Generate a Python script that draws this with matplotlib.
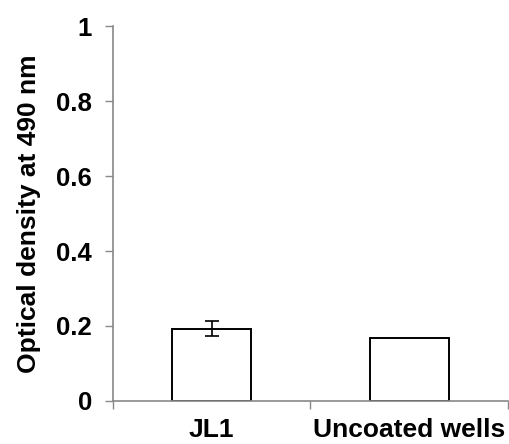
#!/usr/bin/env python3
''' Optical density bar chart
'''

import numpy as np
import matplotlib
matplotlib.use('Agg')
from matplotlib import pyplot

# data
categories = ['JL1', 'Uncoated wells']
values = [0.193, 0.169]
errors = [0.021, 0.0]

pyplot.rcParams['font.family'] = ['Liberation Sans', 'DejaVu Sans']
pyplot.rcParams['font.weight'] = 'bold'

grey = '#888888'

fig = pyplot.figure(figsize=(5.09, 4.44), dpi=100)
ax = fig.add_axes([0.222, 0.097, 0.776, 0.844])

x = np.arange(len(categories))
ax.bar(x, values, width=0.4, color='white', edgecolor='black', linewidth=1.4,
    zorder=2)
for xi, v, e in zip(x, values, errors):
    if e > 0:
        ax.errorbar(xi, v, yerr=e, fmt='none', ecolor='black', elinewidth=1.2,
            capsize=5, capthick=1.2, zorder=3)

ax.set_xlim(-0.5, len(categories) - 0.5)
ax.set_ylim(0, 1)
ax.set_yticks([0, 0.2, 0.4, 0.6, 0.8, 1])
ax.set_yticklabels(['0', '0.2', '0.4', '0.6', '0.8', '1'])

# ticks at category boundaries, labels at centres
ax.set_xticks(np.arange(len(categories) + 1) - 0.5)
ax.set_xticklabels([])
ax.set_xticks(x, minor=True)
ax.set_xticklabels(categories, minor=True)
ax.tick_params(axis='x', which='minor', length=0, pad=12, labelsize=19)
ax.tick_params(axis='x', which='major', length=6, width=1, color=grey,
    direction='out')
ax.tick_params(axis='y', length=6, width=1, color=grey, direction='out',
    labelsize=18.5, pad=9)

for s in ['top', 'right']:
    ax.spines[s].set_visible(False)
for s in ['left', 'bottom']:
    ax.spines[s].set_color(grey)
    ax.spines[s].set_linewidth(1.2)

ax.set_ylabel('Optical density at 490 nm', fontsize=19, fontweight='bold',
    labelpad=11)

fig.savefig('out.png', dpi=100)
